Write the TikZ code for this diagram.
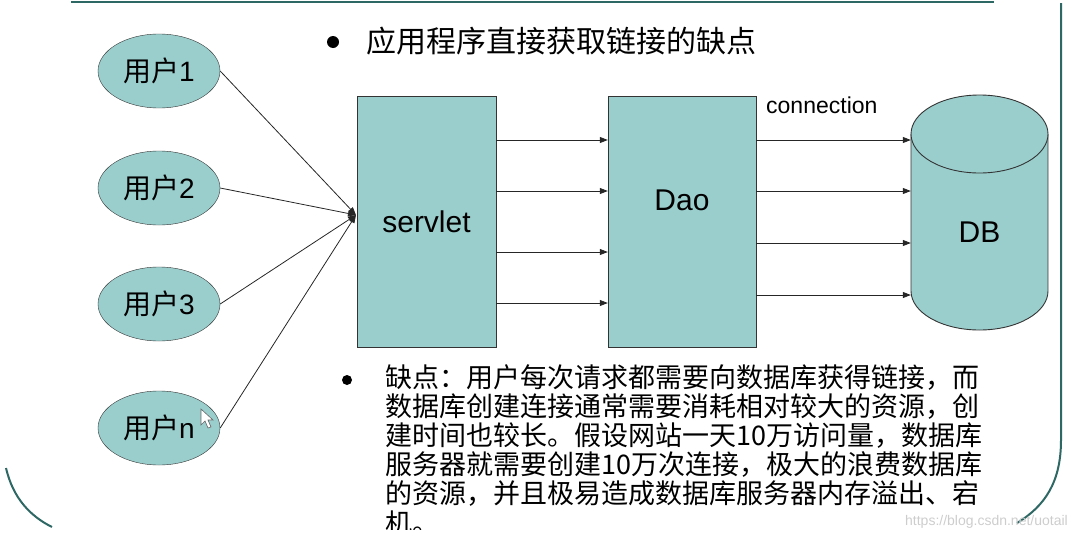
\documentclass[tikz,border=0pt]{standalone}
\usepackage{fontspec}
\setmainfont{Liberation Sans}
\newfontfamily\cjk{Noto Sans CJK SC}
\usetikzlibrary{shapes.geometric,arrows.meta}
\definecolor{boxfill}{RGB}{154,206,205}
\definecolor{framec}{RGB}{46,104,100}
\definecolor{markc}{RGB}{205,205,205}

\begin{document}
\begin{tikzpicture}[x=1pt,y=-1pt,
	user/.style={shape=ellipse,draw=black!80,fill=boxfill,minimum width=122pt,minimum height=74pt,inner sep=0pt,font=\fontsize{28}{30}\selectfont},
	block/.style={shape=rectangle,draw=black!80,fill=boxfill,minimum width=139pt,minimum height=251pt,font=\fontsize{30}{32}\selectfont},
	conn/.style={-{Triangle[length=8pt,width=6pt]},black!85,line width=0.8pt},
	frameline/.style={draw=framec,line width=2pt}]
	
	\useasboundingbox (0,0) rectangle (1076,544);
	
	% frame of the slide
	\draw[frameline] (71,2) -- (994,2);
	\draw[frameline] (1061,3) -- (1061,440) .. controls (1061,482) and (1045,506) .. (1017,523);
	\draw[frameline] (6,468) .. controls (13,498) and (30,516) .. (52,527);
	
	% title
	\fill (333,42) circle (6pt);
	\node[anchor=west,inner sep=0pt,font=\cjk\fontsize{30}{32}\selectfont] (title) at (366,41) {应用程序直接获取链接的缺点};
	
	% users
	\node[user] (u1) at (159,71)  {{\cjk 用户}1};
	\node[user] (u2) at (159,188) {{\cjk 用户}2};
	\node[user] (u3) at (159,304) {{\cjk 用户}3};
	\node[user] (un) at (159,428) {{\cjk 用户}n};
	
	% servlet and dao
	\node[block] (servlet) at (426.5,221.5) {servlet};
	\node[block,minimum width=148pt,label={[yshift=21pt,font=\fontsize{30}{32}\selectfont]center:Dao}] (dao) at (682,221.5) {};
	
	% database
	\fill[boxfill] (911,134) rectangle (1048,291);
	\fill[boxfill] (979.5,291) ellipse [x radius=68.5pt, y radius=39pt];
	\draw[black!80,line width=0.9pt] (911,134) -- (911,291) arc[start angle=180, end angle=360, x radius=68.5pt, y radius=39pt] -- (1048,134);
	\draw[black!80,line width=0.9pt,fill=boxfill] (979.5,134) ellipse [x radius=68.5pt, y radius=39pt];
	\node[minimum width=137pt,minimum height=235pt,inner sep=0pt,label={[yshift=-20pt,font=\fontsize{30}{32}\selectfont]center:DB}] (db) at (979.5,212.5) {};
	\node[anchor=west,inner sep=0pt,font=\fontsize{23}{25}\selectfont] (connlabel) at (766,105) {connection};
	
	\coordinate (hub) at (356,215);
	\draw[conn] (u1.east) -- (hub);
	\draw[conn] (u2.east) -- (hub);
	\draw[conn] (u3.east) -- (hub);
	\draw[conn] (un.east) -- (hub);
	
	\foreach \y in {140,191,252,303}
		\draw[conn] (servlet.east |- 0,\y) -- (dao.west |- 0,\y);
	\foreach \y in {140,191,243,295}
		\draw[conn] (dao.east |- 0,\y) -- (db.west |- 0,\y);
	
	% mouse pointer
	\draw[black!60,fill=white,line width=0.6pt] (201,409) -- (201,425) -- (205,421) -- (208,428) -- (211,427) -- (208,420) -- (213,420) -- cycle;
	
	% remark
	\fill (347,380) circle (5pt);
	\begin{scope}
		\clip (0,0) rectangle (1076,529);
		\node[anchor=north west,inner sep=0pt,align=left,font=\cjk\fontsize{27}{29.2}\selectfont] (remark) at (385,364) {缺点：用户每次请求都需要向数据库获得链接，而\\数据库创建连接通常需要消耗相对较大的资源，创\\建时间也较长。假设网站一天10万访问量，数据库\\服务器就需要创建10万次连接，极大的浪费数据库\\的资源，并且极易造成数据库服务器内存溢出、宕\\机。};
	\end{scope}
	\node[anchor=east,inner sep=0pt,text=markc,font=\fontsize{14}{16}\selectfont] (mark) at (1068,522) {https://blog.csdn.net/uotail};
	
\end{tikzpicture}
\end{document}
